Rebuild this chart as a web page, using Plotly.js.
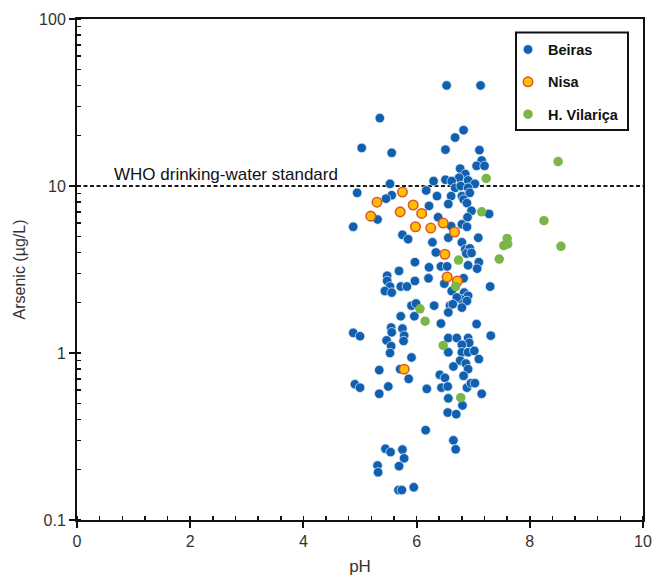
<!DOCTYPE html>
<html>
<head>
<meta charset="utf-8">
<script src="https://cdn.plot.ly/plotly-3.0.1.min.js"></script>
<style>html,body{margin:0;padding:0;background:#fff;}#chart{width:653px;height:577px;}</style>
</head>
<body>
<div id="chart"></div>
<script>
// ---- Data (pH, Arsenic µg/L) ----
const seriesNames = ["Beiras", "Nisa", "H. Vilariça"];

const phBeiras = [
  6.53, 7.13, 5.35, 6.83, 6.68, 5.03, 5.56, 6.51, 7.11, 7.15,
  7.06, 7.20, 6.77, 6.86, 6.75, 6.91, 6.51, 6.62, 6.30, 5.53,
  7.03, 6.68, 6.78, 6.91, 6.17, 4.95, 5.56, 5.46, 6.36, 6.61,
  6.80, 6.83, 6.94, 6.89, 6.56, 6.22, 6.97, 7.28, 6.90, 6.38,
  5.31, 4.88, 6.61, 6.80, 6.89, 5.75, 5.85, 6.56, 6.80, 7.09,
  6.28, 6.34, 6.86, 6.94, 6.88, 6.97, 5.97, 6.22, 6.43, 6.54,
  6.91, 7.10, 7.07, 5.69, 5.48, 5.48, 5.97, 6.21, 6.83, 6.49,
  5.72, 5.83, 5.53, 7.30, 5.44, 5.56, 6.62, 6.84, 6.91, 6.78,
  6.89, 6.71, 5.91, 5.99, 6.31, 6.59, 6.64, 6.56, 6.80, 5.72,
  5.96, 6.43, 7.06, 5.55, 5.56, 5.75, 5.78, 5.77, 4.88, 5.00,
  5.47, 5.55, 5.53, 6.56, 6.71, 6.91, 6.93, 6.80, 7.31, 6.56,
  6.80, 6.91, 7.02, 5.91, 7.10, 6.77, 6.87, 6.91, 6.65, 5.34,
  5.71, 5.86, 6.41, 6.50, 6.83, 4.91, 5.00, 5.50, 5.34, 6.18,
  6.44, 6.55, 6.89, 6.96, 7.03, 7.15, 6.56, 6.81, 6.55, 6.70,
  6.16, 6.65, 6.69, 5.45, 5.54, 5.75, 5.78, 5.31, 5.32, 5.69,
  5.68, 5.74, 5.95
];
const asBeiras = [
  40, 40, 25.5, 21.6, 19.5, 16.9, 15.8, 16.5, 16.4, 14.2,
  13.2, 13.2, 12.7, 11.8, 11.2, 10.8, 10.9, 10.7, 10.7, 10.3,
  10.3, 9.75, 10.0, 9.75, 9.4, 9.1, 8.8, 8.4, 8.7, 8.7,
  8.7, 8.3, 9.1, 7.9, 7.8, 7.6, 7.1, 6.8, 6.5, 6.5,
  6.3, 5.7, 5.75, 5.9, 5.7, 5.1, 4.8, 4.9, 4.6, 4.9,
  4.6, 4.0, 4.17, 4.23, 3.94, 3.97, 3.5, 3.26, 3.3, 3.3,
  3.35, 3.5, 3.2, 3.1, 2.9, 2.7, 2.7, 2.8, 2.8, 2.6,
  2.5, 2.5, 2.5, 2.5, 2.35, 2.3, 2.35, 2.3, 2.2, 2.1,
  2.05, 2.15, 1.92, 1.98, 1.92, 1.92, 1.96, 1.75, 1.87, 1.66,
  1.66, 1.5, 1.49, 1.42, 1.33, 1.4, 1.27, 1.18, 1.32, 1.26,
  1.19, 1.1, 1.0, 1.23, 1.23, 1.23, 1.15, 1.12, 1.27, 1.01,
  1.01, 1.01, 1.03, 0.94, 0.92, 0.9, 0.865, 0.80, 0.83, 0.79,
  0.80, 0.70, 0.74, 0.71, 0.73, 0.65, 0.62, 0.63, 0.57, 0.61,
  0.62, 0.63, 0.62, 0.66, 0.66, 0.57, 0.535, 0.485, 0.44, 0.43,
  0.345, 0.30, 0.265, 0.267, 0.255, 0.264, 0.234, 0.212, 0.193, 0.21,
  0.151, 0.151, 0.157
];

const phNisa = [5.75, 5.30, 5.94, 5.71, 6.09, 5.19, 6.47, 5.98, 6.25, 6.67, 6.50, 6.54, 6.72, 5.78];
const asNisa = [9.2, 8.0, 7.7, 7.0, 6.85, 6.6, 6.0, 5.7, 5.6, 5.3, 3.9, 2.85, 2.7, 0.80];

const phVilarica = [7.23, 8.50, 8.25, 7.60, 7.54, 7.61, 8.55, 7.46, 6.74, 7.15, 6.69, 6.06, 6.15, 6.47, 6.78];
const asVilarica = [11.1, 14.0, 6.2, 4.85, 4.4, 4.5, 4.35, 3.65, 3.6, 7.0, 2.5, 1.84, 1.55, 1.11, 0.54];

const whoLimit = 10;
const whoLabel = "WHO drinking-water standard";
const xRange = [0, 10];
const yTickVals = [0.1, 1, 10, 100];
const yTickText = ["0.1", "1", "10", "100"];

const FONT = "Liberation Sans, Arial, sans-serif";

const traces = [
  {
    x: xRange, y: [whoLimit, whoLimit], mode: "lines", showlegend: false, hoverinfo: "skip",
    line: {color: "#1a1a1a", width: 2, dash: "4px,2.5px"}
  },
  {
    name: seriesNames[0], legendgroup: "a", x: phBeiras, y: asBeiras, mode: "markers", type: "scatter",
    marker: {color: "#1160B0", size: 9.5, line: {color: "rgba(225,235,248,0.9)", width: 0.8}}
  },
  {
    name: seriesNames[1], legendgroup: "b", x: phNisa, y: asNisa, mode: "markers", type: "scatter",
    marker: {color: "#FFC000", size: 9.5, line: {color: "#E0562C", width: 1.6}}
  },
  {
    name: seriesNames[2], legendgroup: "c", x: phVilarica, y: asVilarica, mode: "markers", type: "scatter",
    marker: {color: "#7AB648", size: 9.5, line: {width: 0}}
  }
];

const layout = {
  width: 653, height: 577,
  margin: {l: 77, r: 10, t: 19, b: 57},
  paper_bgcolor: "#fff", plot_bgcolor: "#fff",
  font: {family: FONT, color: "#222", size: 15},
  showlegend: true,
  legend: {
    x: 0.7615, y: 0.971, xanchor: "left", yanchor: "top",
    borderwidth: 0, bgcolor: "rgba(0,0,0,0)",
    font: {family: FONT, size: 14.5, color: "#111", weight: "bold"},
    tracegroupgap: 10.5, itemwidth: 30
  },
  shapes: [{
    type: "rect", xref: "paper", yref: "paper",
    x0: 0.7756, x1: 0.9735, y0: 0.7784, y1: 0.973,
    line: {color: "#111", width: 2}, fillcolor: "#fff", layer: "above"
  }],
  xaxis: {
    range: xRange, dtick: 2, tick0: 0,
    showgrid: false, zeroline: false,
    showline: true, linecolor: "#111", linewidth: 2, mirror: true,
    ticks: "outside", ticklen: 6, tickwidth: 2, tickcolor: "#111",
    tickfont: {family: FONT, size: 16, color: "#333"},
    minor: {dtick: 0.4, ticks: "inside", ticklen: 4, tickwidth: 1.5, tickcolor: "#111", showgrid: false},
    title: {text: "pH", font: {family: FONT, size: 17, color: "#333"}, standoff: 11}
  },
  yaxis: {
    type: "log", range: [-1, 2],
    tickvals: yTickVals, ticktext: yTickText,
    showgrid: false, zeroline: false,
    showline: true, linecolor: "#111", linewidth: 2, mirror: true,
    ticks: "outside", ticklen: 6, tickwidth: 2, tickcolor: "#111",
    tickfont: {family: FONT, size: 16, color: "#333"},
    minor: {dtick: "D1", ticks: "inside", ticklen: 4, tickwidth: 1.5, tickcolor: "#111", showgrid: false},
    title: {text: "Arsenic (µg/L)", font: {family: FONT, size: 16, color: "#333"}, standoff: 9}
  },
  annotations: [{
    text: whoLabel, xref: "x", yref: "y", x: 0.62, y: Math.log10(whoLimit),
    xanchor: "left", yanchor: "bottom", showarrow: false, yshift: 0,
    font: {family: FONT, size: 17, color: "#111"}
  }]
};

Plotly.newPlot("chart", traces, layout, {displayModeBar: false, staticPlot: true});
</script>
</body>
</html>
